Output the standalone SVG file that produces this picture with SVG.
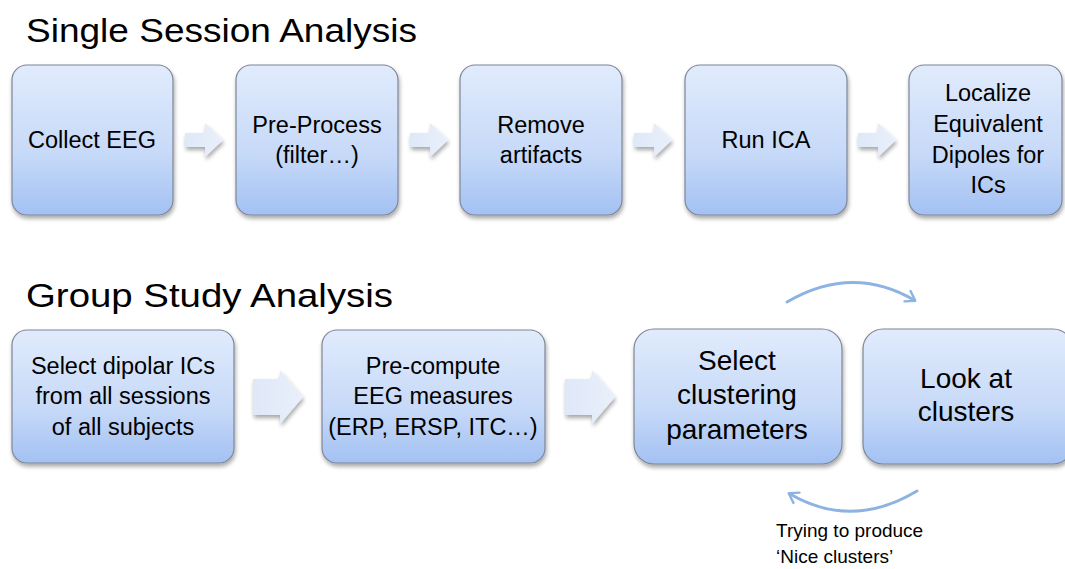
<svg xmlns="http://www.w3.org/2000/svg" width="1065" height="569" viewBox="0 0 1065 569">
<defs>
<linearGradient id="g" x1="0" y1="0" x2="0" y2="1">
<stop offset="0" stop-color="#e1ebfc"/>
<stop offset="0.6" stop-color="#c6d9f8"/>
<stop offset="1" stop-color="#a3c1f3"/>
</linearGradient>
<linearGradient id="ga" x1="0" y1="0" x2="1" y2="0">
<stop offset="0" stop-color="#dfe8f8"/>
<stop offset="1" stop-color="#e9f0fb"/>
</linearGradient>
<filter id="sh" x="-10%" y="-10%" width="125%" height="130%">
<feGaussianBlur in="SourceAlpha" stdDeviation="2"/>
<feOffset dx="1" dy="3" result="b"/>
<feComponentTransfer><feFuncA type="linear" slope="0.35"/></feComponentTransfer>
<feMerge><feMergeNode/><feMergeNode in="SourceGraphic"/></feMerge>
</filter>
<marker id="ah" viewBox="0 0 10 10" refX="6" refY="5" markerWidth="5" markerHeight="5" orient="auto" markerUnits="strokeWidth">
<path d="M1,1 L7,5 L1,9" fill="none" stroke="#8db3e2" stroke-width="1.6" stroke-linecap="round" stroke-linejoin="round"/>
</marker>
<style>
.box{fill:url(#g);stroke:#7d8798;stroke-width:1.2;filter:url(#sh)}
.arr{fill:url(#ga);filter:url(#sh)}
.t{font-family:"Liberation Sans",Arial,sans-serif;fill:#000;text-anchor:middle}
.s{font-size:23.5px}
.l{font-size:28px}
.title{font-family:"Liberation Sans",Arial,sans-serif;font-size:34px;fill:#000}
.cur{fill:none;stroke:#8db3e2;stroke-width:3;stroke-linecap:round}
.note{font-family:"Liberation Sans",Arial,sans-serif;font-size:19px;fill:#000}
</style>
</defs>
<rect width="1065" height="569" fill="#fff"/>
<text class="title" x="26" y="42" textLength="391" lengthAdjust="spacingAndGlyphs">Single Session Analysis</text>
<text class="title" x="26" y="307" textLength="367" lengthAdjust="spacingAndGlyphs">Group Study Analysis</text>

<g id="connectors">
<path class="arr" d="M185,133 H205 V123 L223,140 L205,157 V147 H185 Z"/>
<path class="arr" d="M410,133 H430 V123 L448,140 L430,157 V147 H410 Z"/>
<path class="arr" d="M634,133 H654 V123 L672,140 L654,157 V147 H634 Z"/>
<path class="arr" d="M858,133 H878 V123 L896,140 L878,157 V147 H858 Z"/>
<path class="arr" d="M253,379 H280 V370 L303,397 L280,424 V415 H253 Z"/>
<path class="arr" d="M565,379 H592 V370 L615,397 L592,424 V415 H565 Z"/>
<path class="cur" d="M787,302 Q852,264 914,300" marker-end="url(#ah)"/>
<path class="cur" d="M917,491 Q852,530 790,494" marker-end="url(#ah)"/>
</g>

<g id="n1"><rect class="box" x="12" y="65" width="161" height="150" rx="15"/><text class="t s" x="92" y="148">Collect EEG</text></g>
<g id="n2"><rect class="box" x="236" y="65" width="162" height="150" rx="15"/><text class="t s" x="317" y="133">Pre-Process</text><text class="t s" x="317" y="163">(filter…)</text></g>
<g id="n3"><rect class="box" x="460" y="65" width="162" height="150" rx="15"/><text class="t s" x="541" y="133">Remove</text><text class="t s" x="541" y="163">artifacts</text></g>
<g id="n4"><rect class="box" x="685" y="65" width="162" height="150" rx="15"/><text class="t s" x="766" y="148">Run ICA</text></g>
<g id="n5"><rect class="box" x="909" y="65" width="153" height="150" rx="15"/><text class="t s" x="988" y="101">Localize</text><text class="t s" x="988" y="132">Equivalent</text><text class="t s" x="988" y="163">Dipoles for</text><text class="t s" x="988" y="193">ICs</text></g>

<g id="n6"><rect class="box" x="12" y="330" width="222" height="133" rx="15"/><text class="t s" x="123" y="374">Select dipolar ICs</text><text class="t s" x="123" y="404">from all sessions</text><text class="t s" x="123" y="435">of all subjects</text></g>
<g id="n7"><rect class="box" x="322" y="330" width="223" height="133" rx="15"/><text class="t s" x="433" y="374">Pre-compute</text><text class="t s" x="433" y="404">EEG measures</text><text class="t s" x="433" y="435">(ERP, ERSP, ITC…)</text></g>
<g id="n8"><rect class="box" x="634" y="329" width="208" height="135" rx="20"/><text class="t l" x="737" y="370">Select</text><text class="t l" x="737" y="404">clustering</text><text class="t l" x="737" y="439">parameters</text></g>
<g id="n9"><rect class="box" x="863" y="329" width="210" height="135" rx="20"/><text class="t l" x="966" y="388">Look at</text><text class="t l" x="966" y="421">clusters</text></g>

<text class="note" x="776" y="537">Trying to produce</text>
<text class="note" x="776" y="563">‘Nice clusters’</text>
</svg>
